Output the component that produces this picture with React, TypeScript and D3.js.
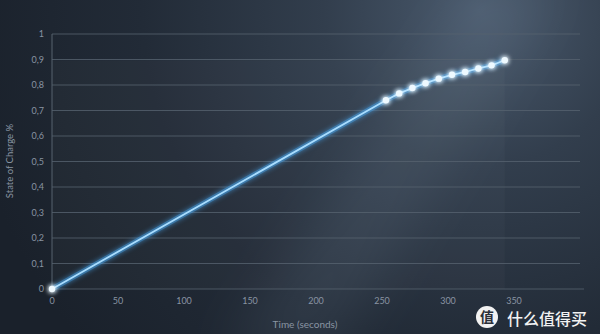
import React from "react";
import * as d3 from "d3";

const times = [0, 253, 263, 273, 283, 293, 303, 313, 323, 333, 343];
const soc = [0, 0.74, 0.767, 0.788, 0.807, 0.825, 0.84, 0.851, 0.865, 0.877, 0.897];
const xTicks = [0, 50, 100, 150, 200, 250, 300, 350];
const yTicks = [0, 0.1, 0.2, 0.3, 0.4, 0.5, 0.6, 0.7, 0.8, 0.9, 1];
const dotTimes = [0, 253, 263, 273, 283, 293, 303, 313, 323, 333, 343];

const W = 600, H = 334;

export default function App() {
  const x = d3.scaleLinear().domain([0, 400]).range([52, 580]);
  const y = d3.scaleLinear().domain([0, 1]).range([289, 34]);
  const pts = times.map((t, i) => [t, soc[i]] as [number, number]);
  const line = d3.line<[number, number]>().x(d => x(d[0])).y(d => y(d[1]));
  const dots = pts.filter(p => dotTimes.includes(p[0]));
  const fmt = (v: number) => (v === 0 ? "0" : v === 1 ? "1" : d3.format(".1f")(v).replace(".", ","));
  const last = pts[pts.length - 1];
  return (
    <svg width={W} height={H} style={{ position: "absolute", left: 0, top: 0, display: "block" }}
      fontFamily="Lato, 'Open Sans', sans-serif">
      <defs>
        <radialGradient id="bg" cx={480} cy={10} r={520} gradientUnits="userSpaceOnUse">
          <stop offset="0" stopColor="#4a5a6d" />
          <stop offset="0.3" stopColor="#323e4d" />
          <stop offset="0.65" stopColor="#222b37" />
          <stop offset="1" stopColor="#1a212b" />
        </radialGradient>
        <filter id="soft" x="-50%" y="-50%" width="200%" height="200%">
          <feGaussianBlur stdDeviation="28" />
        </filter>
        <filter id="glow" x="-20%" y="-20%" width="140%" height="140%">
          <feGaussianBlur stdDeviation="2.5" result="b" />
          <feMerge>
            <feMergeNode in="b" />
            <feMergeNode in="SourceGraphic" />
          </feMerge>
        </filter>
        <filter id="dglow" x="-200%" y="-200%" width="500%" height="500%">
          <feGaussianBlur stdDeviation="2.5" result="b" />
          <feMerge>
            <feMergeNode in="b" />
            <feMergeNode in="b" />
            <feMergeNode in="SourceGraphic" />
          </feMerge>
        </filter>
      </defs>
      <rect width={W} height={H} fill="url(#bg)" />
      <polygon points="480,-20 560,-20 330,360 220,360" fill="#8fa3b8" opacity={0.12} filter="url(#soft)" />
      <rect x={x(0)} y={y(last[1])} width={x(last[0]) - x(0)} height={y(0) - y(last[1])} fill="#ffffff" opacity={0.025} />
      {yTicks.map(t => (
        <g key={t}>
          <line x1={x(0)} x2={t === 0 ? 584 : 580} y1={y(t)} y2={y(t)} stroke="#56626f" strokeWidth={1} opacity={0.8} />
          <text x={44} y={y(t) + 3} textAnchor="end" fontSize={9} fill="#8994a2">{fmt(t)}</text>
        </g>
      ))}
      <line x1={x(0)} x2={x(0)} y1={y(1)} y2={y(0)} stroke="#56626f" strokeWidth={1} />
      {xTicks.map(t => (
        <text key={t} x={x(t)} y={304} textAnchor="middle" fontSize={9} fill="#8994a2">{t}</text>
      ))}
      <text x={305} y={328} textAnchor="middle" fontSize={10} fill="#8994a2">Time (seconds)</text>
      <text transform={`translate(13,161) rotate(-90)`} textAnchor="middle" fontSize={9.5} fill="#8994a2">State of Charge %</text>
      <path d={line(pts) || ""} fill="none" stroke="#4aa8f0" strokeWidth={5} opacity={0.6} filter="url(#glow)" />
      <path d={line(pts) || ""} fill="none" stroke="#a8ddff" strokeWidth={1.8} />
      {dots.map((p, i) => (
        <circle key={i} cx={x(p[0])} cy={y(p[1])} r={3.2} fill="#eef9ff" filter="url(#dglow)" />
      ))}
      <g>
        <circle cx={487} cy={317} r={11} fill="#f2f2f2" />
        <text x={487} y={322} textAnchor="middle" fontSize={14} fontFamily="'Noto Sans CJK SC'" fill="#2a2f38" fontWeight={700}>值</text>
        <text x={507} y={325} fontSize={16} fontFamily="'Noto Sans CJK SC'" fill="#f2f2f2" fontWeight={500}>什么值得买</text>
      </g>
    </svg>
  );
}
